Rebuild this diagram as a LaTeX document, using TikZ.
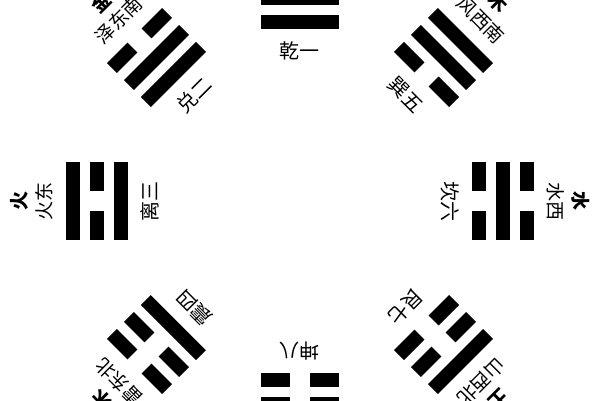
\documentclass[tikz,border=0pt]{standalone}
\usepackage{fontspec}
\newfontfamily\cjk{Noto Sans CJK SC}
\begin{document}
\begin{tikzpicture}[x=1pt,y=1pt,
  gualabel/.style={font={\cjk\fontsize{20}{20}\selectfont},inner sep=0pt},
  fanglabel/.style={font={\cjk\fontsize{19}{19}\selectfont},inner sep=0pt},
  xinglabel/.style={font={\cjk\bfseries\fontsize{19}{19}\selectfont},inner sep=0pt}]
  \useasboundingbox (-300,-199) rectangle (300,201);

  % eight trigrams, first line innermost
  \foreach \a/\p/\q/\r/\nm in {90/1/1/1/乾一, 135/1/1/0/兑二, 180/1/0/1/离三,
    225/1/0/0/震四, 270/0/0/0/坤八, 315/0/0/1/艮七, 0/0/1/0/坎六, 45/0/1/1/巽五}{
    \begin{scope}[rotate=\a-90, transform shape]
      \foreach \v [count=\i] in {\p,\q,\r}{
        \pgfmathsetmacro\y{155+24*\i}
        \ifnum\v=1
          \fill (-39,\y-7) rectangle (39,\y+7);
        \else
          \fill (-39,\y-7) rectangle (-10,\y+7);
          \fill (10,\y-7) rectangle (39,\y+7);
        \fi
      }
      \node[gualabel] (gua-\a) at (0,150) {\nm};
    \end{scope}
  }

  % directions and elements
  \foreach \a/\fw/\el in {135/泽东南/金, 180/火东/火, 225/雷东北/木,
    315/山西北/土, 0/水西/水, 45/风西南/木}{
    \begin{scope}[rotate=\a-90, transform shape]
      \node[fanglabel] (fang-\a) at (0,256) {\fw};
      \node[xinglabel] (xing-\a) at (0,281) {\el};
    \end{scope}
  }
\end{tikzpicture}
\end{document}
